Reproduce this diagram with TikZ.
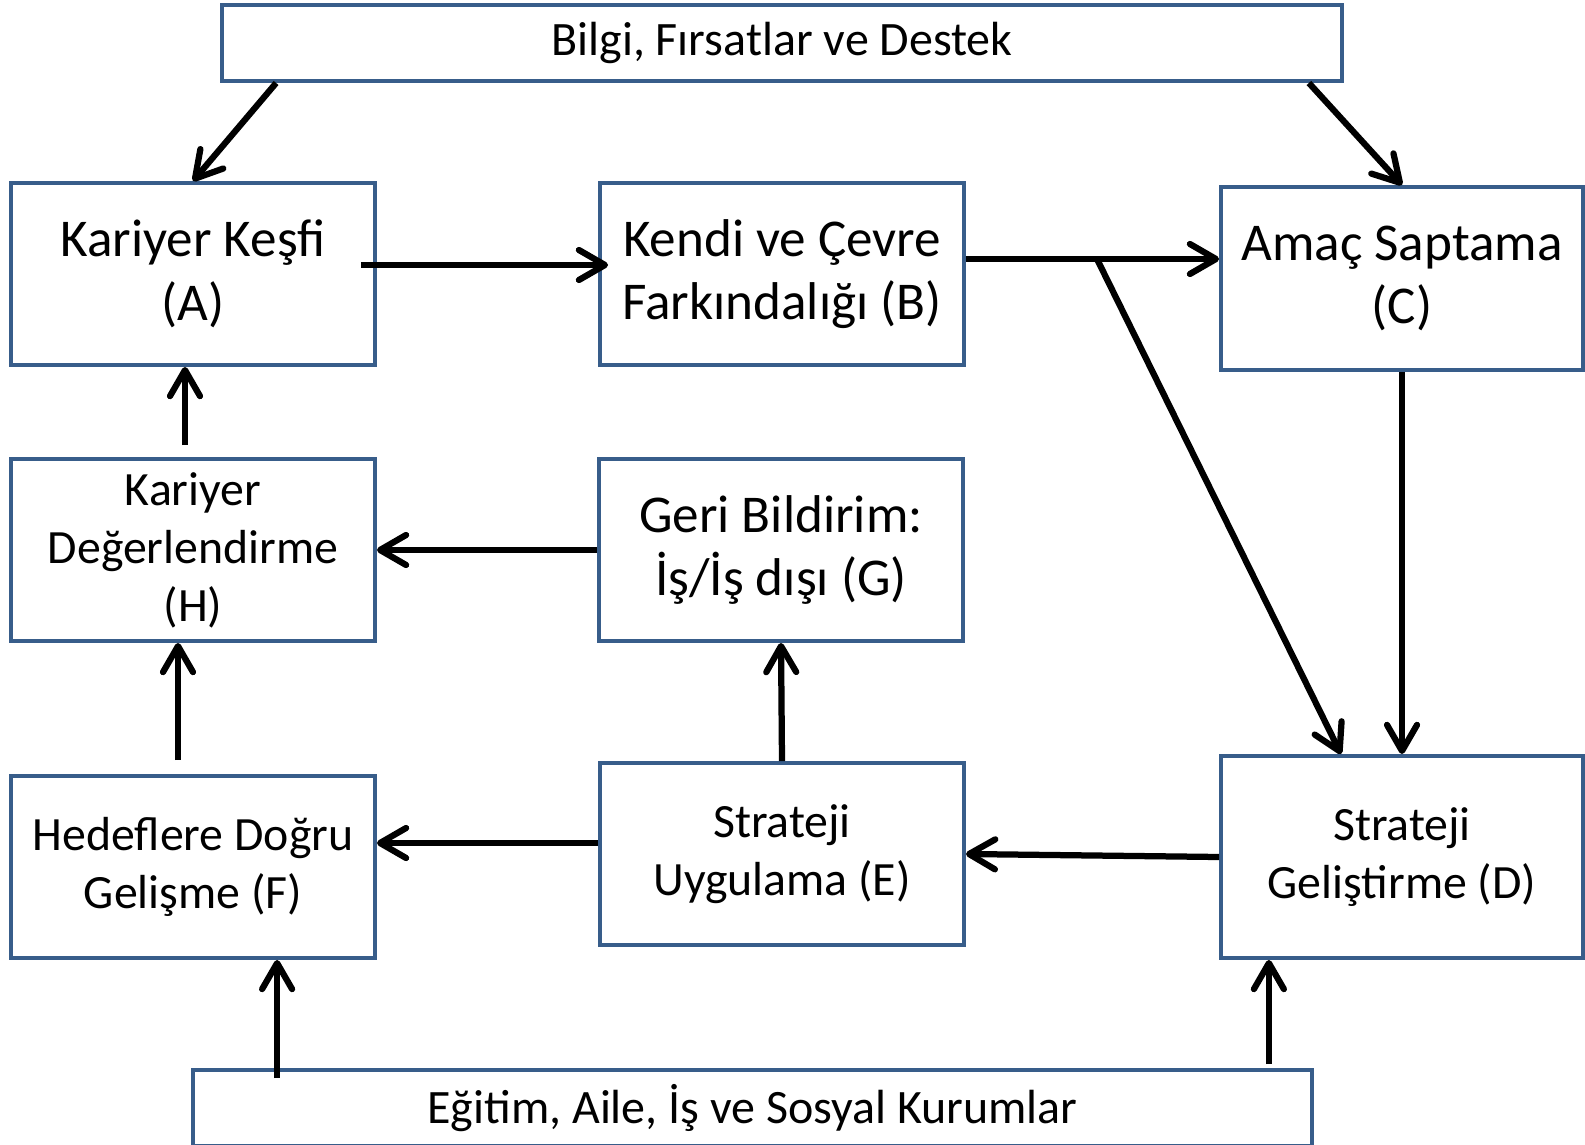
\documentclass[tikz,border=0pt]{standalone}
\usepackage{fontspec}
\setmainfont{Carlito}
\usetikzlibrary{arrows.meta,calc}
\definecolor{boxblue}{HTML}{385D8A}

\begin{document}
\begin{tikzpicture} [x=0.02cm, y=-0.02cm,
	box/.style={draw=boxblue, line width=0.08cm, fill=white, align=center, inner sep=0pt,
		minimum width=7.28cm, minimum height=3.64cm},
	bigbox/.style={box, font=\fontsize{30.25}{36.2}\selectfont},
	midbox/.style={box, font=\fontsize{27.2}{33}\selectfont},
	band/.style={box, font=\fontsize{27.3}{32}\selectfont, minimum height=1.52cm},
	arr/.style={-{Straight Barb[length=0.52cm, width=0.6cm, round]}, line width=0.125cm}]
	\useasboundingbox (0,0) rectangle (1585,1145);
	
	\node[band, minimum width=22.4cm] (top) at (782,43) {Bilgi, Fırsatlar ve Destek};
	\node[bigbox] (A) at (193,274) {Kariyer Keşfi\\(A)};
	\node[bigbox] (B) at (782,274) {Kendi ve Çevre\\Farkındalığı (B)};
	\node[bigbox, minimum width=7.24cm, minimum height=3.66cm] (C) at (1402,278.5) {Amaç Saptama\\(C)};
	\node[midbox] (H) at (193,550) {Kariyer\\Değerlendirme\\(H)};
	\node[bigbox] (G) at (781,550) {Geri Bildirim:\\İş/İş dışı (G)};
	\node[midbox] (F) at (193,867) {Hedeflere Doğru\\Gelişme (F)};
	\node[midbox] (E) at (782,854) {Strateji\\Uygulama (E)};
	\node[midbox, minimum width=7.24cm, minimum height=4.04cm] (D) at (1402,857) {Strateji\\Geliştirme (D)};
	\node[band, minimum width=22.38cm] (bottom) at (752.5,1108) {Eğitim, Aile, İş ve Sosyal Kurumlar};
	
	\draw[arr] ($(top.south west)+(56,0)$) -- (A.north);
	\draw[arr] ($(top.south east)+(-35,0)$) -- (C.north);
	\draw[arr] ($(A.east)+(-16,-9)$) -- ($(B.west)+(10,-9)$);
	\coordinate (bc) at ($(B.east)+(0,-15)$);
	\draw[arr] (bc) -- (bc -| C.west);
	\coordinate (split) at ($(bc)+(131,0)$);
	\draw[arr] (split) -- ($(D.north)+(-61,0)$);
	\draw[arr] (C.south) -- (D.north);
	\draw[arr] (G.west) -- (H.east);
	\draw[arr] ($(H.north)+(-8,-12)$) -- ($(A.south)+(-8,0)$);
	\draw[arr] ($(F.north)+(-15,-14)$) -- ($(H.south)+(-15,0)$);
	\draw[arr] (E.north) -- (G.south);
	\coordinate (ef) at ($(E.west)+(0,-11)$);
	\draw[arr] (ef) -- (ef -| F.east);
	\draw[arr] (D.west) -- (E.east);
	\coordinate (bf) at ($(bottom.north west)+(86,10)$);
	\draw[arr] (bf) -- (bf |- F.south);
	\coordinate (bd) at ($(bottom.north east)+(-45,-4)$);
	\draw[arr] (bd) -- (bd |- D.south);
\end{tikzpicture}
\end{document}
